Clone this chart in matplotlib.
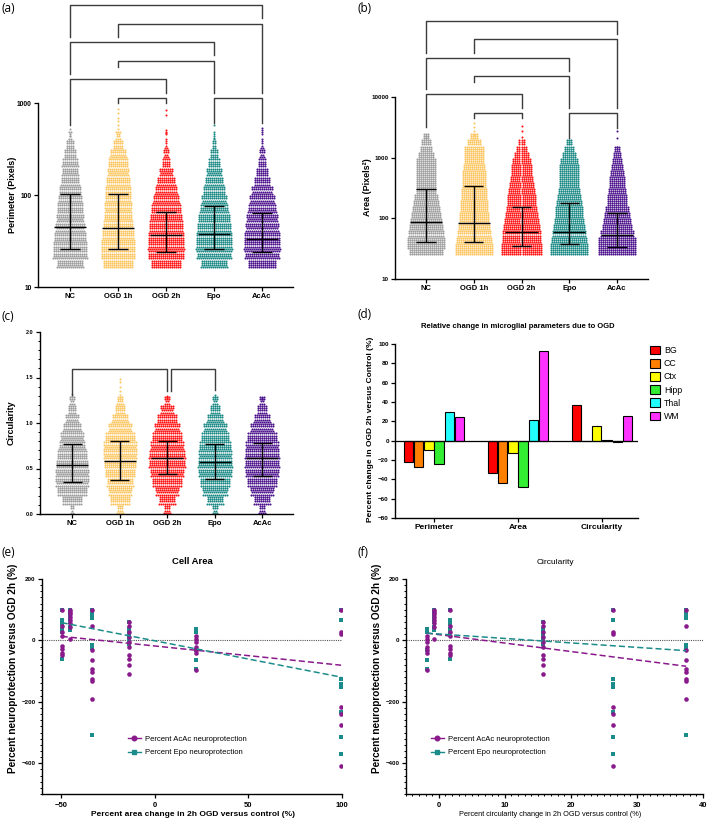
import numpy as np
import matplotlib
matplotlib.use("Agg")
import matplotlib.pyplot as plt
from matplotlib.lines import Line2D
from matplotlib.patches import Patch
from matplotlib.ticker import NullLocator, MultipleLocator

plt.rcParams['font.family'] = ['Liberation Sans', 'DejaVu Sans']
plt.rcParams['font.weight'] = 'bold'

groups = ['NC', 'OGD 1h', 'OGD 2h', 'Epo', 'AcAc']
group_colors = ['#9d9d9d', '#fcc660', '#ff1414', '#1a8985', '#4b108c']

# (a) perimeter: cells per 0.1-decade bin, first bin starts at log10 = 1.2
perim_counts = [
    [53, 69, 68, 64, 59, 55, 52, 49, 44, 37, 33, 33, 24, 16, 6],
    [60, 68, 68, 65, 61, 57, 55, 53, 52, 48, 43, 40, 33, 20, 10],
    [60, 72, 73, 72, 68, 65, 60, 53, 45, 37, 27, 16, 11, 5, 3],
    [53, 70, 73, 72, 68, 64, 57, 51, 44, 37, 31, 24, 16, 8, 4],
    [56, 70, 73, 72, 67, 63, 57, 51, 43, 32, 24, 16, 11, 5, 3],
]
perim_sparse = [[525, 440], [870, 780, 680, 630, 575, 525], [840, 740, 510, 470],
                [575, 420], [540, 510]]
perim_median = [45, 44, 36.5, 38, 33.5]
perim_lo = [25.6, 26, 24.2, 26, 23.8]
perim_hi = [102, 103, 65, 75, 63]
perim_pairs = [(0, 4), (1, 4), (0, 3), (1, 3), (0, 2), (1, 2), (3, 4)]

# (b) area: cells per 0.1-decade bin, first bin starts at log10 = 1.4
area_counts = [
    [50, 55, 55, 52, 50, 48, 45, 40, 38, 35, 30, 30, 30, 30, 30, 28, 22, 18, 14, 8],
    [55, 55, 52, 50, 48, 45, 45, 42, 40, 38, 38, 35, 35, 35, 32, 30, 30, 28, 20, 10],
    [58, 58, 55, 55, 52, 50, 48, 45, 42, 40, 38, 35, 32, 30, 28, 25, 20, 15, 8],
    [55, 55, 52, 50, 48, 45, 42, 40, 38, 35, 32, 30, 30, 30, 28, 25, 20, 15, 8],
    [55, 55, 55, 50, 45, 40, 38, 35, 30, 28, 25, 22, 22, 20, 18, 15, 12, 8],
]
area_sparse = [[2300, 2100], [3700, 3200, 2700, 2400], [3300, 2700, 2200],
               [1950, 1700], [2800, 2100, 1500]]
area_median = [86, 84, 60, 60, 53]
area_lo = [40, 40.7, 35.5, 37.2, 33.3]
area_hi = [300, 345, 152, 179, 121]
area_pairs = [(0, 4), (1, 4), (0, 3), (1, 3), (0, 2), (1, 2), (3, 4)]

# (c) circularity: cells per 0.1 bin, first bin starts at 0
circ_counts = [
    [7, 40, 60, 67, 67, 64, 60, 53, 47, 37, 27, 16, 11],
    [13, 40, 47, 53, 60, 64, 67, 67, 60, 47, 33, 20, 13],
    [13, 33, 47, 60, 67, 73, 73, 67, 60, 51, 40, 27, 11],
    [11, 33, 51, 60, 67, 69, 67, 64, 56, 47, 33, 20, 11],
    [13, 33, 47, 60, 67, 69, 69, 67, 60, 47, 33, 20, 11],
]
circ_sparse = [[1.32, 1.30], [1.48, 1.45, 1.40, 1.35, 1.31], [1.30, 1.28],
               [1.31, 1.29], [1.28, 1.26]]
circ_median = [0.542, 0.582, 0.612, 0.568, 0.612]
circ_lo = [0.348, 0.37, 0.443, 0.385, 0.414]
circ_hi = [0.769, 0.806, 0.806, 0.769, 0.78]
circ_pairs = [(0, 2), (2, 3)]

# (d) relative change per region
params = ['Perimeter', 'Area', 'Circularity']
regions = ['BG', 'CC', 'Ctx', 'Hipp', 'Thal', 'WM']
region_colors = ['#ff0000', '#ff8000', '#ffff00', '#33ee33', '#22ffff', '#ff33ff']
chg_bg = [-22.5, -33, 37.2]
chg_cc = [-27, -44.3, -0.7]
chg_ctx = [-9.7, -13.1, 15.4]
chg_hipp = [-24.5, -48.4, 1.2]
chg_thal = [29.4, 21.4, -1.5]
chg_wm = [24.2, 92.9, 25.8]

# (e)/(f) neuroprotection per region
area_change = [-33.5, -45, -13.5, -49.5, 22, 99.5]
circ_change = [37.5, -0.7, 15.8, 1.7, -1.8, 26.4]
acac_prot = [
    [100, 46, -30, -65, -94, -103, -125, -132, -192],
    [100, 92, 85, 76, 67, 56, 43, 4],
    [60, 46, 29, 11, -5, -20, -47, -60, -81, -108],
    [100, 48, 27, 16, -18, -28, -40, -48],
    [16, 5, -5, -20, -30, -41, -97],
    [100, 27, 20, -217, -241, -275, -409],
]
epo_prot = [
    [100, 90, 76, 72, -15, -25, -309],
    [100, 95, 88, 80, 70, 60, 45, 33],
    [60, 38, 27, 13, 5, 0, -11],
    [100, 67, 60, 53, 38, 27, -62],
    [38, 27, -30, -63, -92],
    [100, 65, -125, -141, -152, -234, -313, -369],
]
# linear fits: (intercept, slope)
fit_area_acac = (-18, -0.63)
fit_area_epo = (-1, -1.19)
fit_circ_acac = (19, -2.75)
fit_circ_epo = (21, -1.45)

purple = '#8a1a8c'
teal = '#1b8c8a'

fig = plt.figure(figsize=(7.09, 8.24), dpi=100)


def add_ax(l, t, r, b):
    return fig.add_axes([l / 709, 1 - b / 824, (r - l) / 709, (b - t) / 824])


def style(ax, ysize, xsize):
    for s in ['top', 'right']:
        ax.spines[s].set_visible(False)
    for s in ['left', 'bottom']:
        ax.spines[s].set_linewidth(1.0)
    ax.tick_params(which='major', length=3, width=0.9, pad=1.5)
    ax.tick_params(which='minor', length=1.5, width=0.7)
    ax.tick_params(axis='y', labelsize=ysize)
    ax.tick_params(axis='x', labelsize=xsize)


def draw_swarm(ax, xc, start, step, counts, rows, dx, color, log, sparse):
    xs, ys = [], []
    for b, n in enumerate(counts):
        lo = start + b * step
        base, extra = divmod(n, rows)
        for r in range(rows):
            k = base + (1 if (r * 3) % rows < extra else 0)
            if k <= 0:
                continue
            yv = lo + (r + 0.5) * step / rows
            if log:
                yv = 10 ** yv
            off = (np.arange(k) - (k - 1) / 2) * dx
            xs.extend(xc + off)
            ys.extend([yv] * k)
    xs.extend([xc] * len(sparse))
    ys.extend(sparse)
    ax.scatter(xs, ys, s=2.2, c=color, linewidths=0, zorder=2)


def summary(ax, i, med, lo, hi):
    kw = dict(color='black', lw=1.0, zorder=3, solid_capstyle='butt')
    ax.plot([i - 0.34, i + 0.34], [med, med], **kw)
    ax.plot([i, i], [lo, hi], **kw)
    ax.plot([i - 0.2, i + 0.2], [lo, lo], **kw)
    ax.plot([i - 0.2, i + 0.2], [hi, hi], **kw)


def bracket(ax, x0, x1, top, left_end, right_end, log):
    f = (lambda v: 10 ** v) if log else (lambda v: v)
    ax.plot([x0, x0, x1, x1], [f(left_end), f(top), f(top), f(right_end)],
            color='#3c3c3c', lw=1.0, clip_on=False, zorder=4)


# ---------- (a) ----------
ax = add_ax(38, 3, 293, 287)
ax.set_yscale('log')
for i in range(5):
    draw_swarm(ax, i, 1.2, 0.1, perim_counts[i], 4, 0.042, group_colors[i], True, perim_sparse[i])
    summary(ax, i, perim_median[i], perim_lo[i], perim_hi[i])
levels_a = [(4.065, 3.717, 3.924), (3.859, 3.717, 3.109), (3.663, 3.315, 3.522),
            (3.457, 3.391, 3.109), (3.261, 2.761, 3.109), (3.054, 3.0, 3.0),
            (3.054, 2.783, 2.783)]
for (p, q), (t, le, re) in zip(perim_pairs, levels_a):
    bracket(ax, p, q, t, le, re, True)
ax.set_ylim(10, 10 ** 4.087)
ax.set_xlim(-0.667, 4.646)
ax.spines['left'].set_bounds(10, 1000)
ax.set_yticks([10, 100, 1000])
ax.set_yticklabels(['10', '100', '1000'])
ax.yaxis.set_minor_locator(NullLocator())
ax.set_xticks(range(5))
ax.set_xticklabels(groups)
style(ax, 4.8, 5.5)

# ---------- (b) ----------
ax = add_ax(395, 8, 648, 279)
ax.set_yscale('log')
for i in range(5):
    draw_swarm(ax, i, 1.4, 0.1, area_counts[i], 3, 0.042, group_colors[i], True, area_sparse[i])
    summary(ax, i, area_median[i], area_lo[i], area_hi[i])
levels_b = [(5.252, 4.725, 5.033), (4.951, 4.725, 3.814), (4.643, 4.132, 4.428),
            (4.346, 4.247, 3.814), (4.049, 3.50, 3.814), (3.731, 3.654, 3.654),
            (3.731, 3.325, 3.484)]
for (p, q), (t, le, re) in zip(area_pairs, levels_b):
    bracket(ax, p, q, t, le, re, True)
ax.set_ylim(10, 10 ** 5.466)
ax.set_xlim(-0.65, 4.65)
ax.spines['left'].set_bounds(10, 10000)
ax.set_yticks([10, 100, 1000, 10000])
ax.set_yticklabels(['10', '100', '1000', '10000'])
ax.yaxis.set_minor_locator(NullLocator())
ax.set_xticks(range(5))
ax.set_xticklabels(groups)
style(ax, 4.5, 5.5)

# ---------- (c) ----------
ax = add_ax(40, 332, 293, 514)
for i in range(5):
    draw_swarm(ax, i, 0.0, 0.1, circ_counts[i], 4, 0.042, group_colors[i], False, circ_sparse[i])
    summary(ax, i, circ_median[i], circ_lo[i], circ_hi[i])
levels_c = [(0, 2, 1.593, 1.308, 1.352), (2.07, 3, 1.593, 1.352, 1.366)]
for x0, x1, t, le, re in levels_c:
    bracket(ax, x0, x1, t, le, re, False)
ax.set_ylim(0, 2)
ax.set_xlim(-0.68, 4.65)
ax.set_yticks([0, 0.5, 1.0, 1.5, 2.0])
ax.set_yticklabels(['0.0', '0.5', '1.0', '1.5', '2.0'])
ax.yaxis.set_minor_locator(MultipleLocator(0.1))
ax.set_xticks(range(5))
ax.set_xticklabels(groups)
style(ax, 4.0, 5.5)

# ---------- (d) ----------
ax = add_ax(395, 344, 638, 518)
xpos = np.arange(len(params))
series = [chg_bg, chg_cc, chg_ctx, chg_hipp, chg_thal, chg_wm]
for k, vals in enumerate(series):
    ax.bar(xpos + (k - 2.5) * 0.122, vals, width=0.112, color=region_colors[k],
           edgecolor='black', linewidth=0.8, zorder=2)
ax.axhline(0, color='black', lw=0.9, zorder=3)
ax.set_ylim(-80, 100)
ax.set_xlim(-0.464, 2.43)
ax.set_yticks(range(-80, 101, 20))
ax.set_xticks(xpos)
ax.set_xticklabels(params)
style(ax, 4.5, 6.0)
handles = [Patch(facecolor=c, edgecolor='black', linewidth=0.8) for c in region_colors]
fig.legend(handles, regions, loc='upper left', bbox_to_anchor=(650 / 709, 1 - 346 / 824),
           frameon=False, prop={'size': 6.3, 'weight': 'normal'}, handlelength=1.1,
           handleheight=1.1, handletextpad=0.5, labelspacing=0.45, borderaxespad=0,
           borderpad=0)
fig.text(518 / 709, 1 - 327 / 824, 'Relative change in microglial parameters due to OGD',
         ha='center', va='center', fontsize=5.5, fontweight='bold')


# ---------- (e) / (f) ----------
def neuro_panel(ax, xvals, fit_acac, fit_epo, loc_x):
    for i in range(len(regions)):
        ax.plot([xvals[i]] * len(epo_prot[i]), epo_prot[i], ls='none', marker='s',
                ms=3.2, color=teal, mew=0, zorder=3)
    for i in range(len(regions)):
        ax.plot([xvals[i]] * len(acac_prot[i]), acac_prot[i], ls='none', marker='o',
                ms=3.3, color=purple, mew=0, zorder=4)
    xr = np.array([min(xvals), max(xvals)])
    ax.plot(xr, fit_acac[0] + fit_acac[1] * xr, ls=(0, (4, 2)), color=purple, lw=1.1, zorder=5)
    ax.plot(xr, fit_epo[0] + fit_epo[1] * xr, ls=(0, (4, 2)), color=teal, lw=1.1, zorder=5)
    ax.axhline(0, color='#555555', lw=0.8, ls=(0, (1, 1)), zorder=1)
    ax.set_ylim(-500, 200)
    ax.set_yticks([-400, -200, 0, 200])
    ax.yaxis.set_minor_locator(MultipleLocator(20))
    h = [Line2D([0], [0], color=purple, marker='o', ms=3.3, lw=1.0),
         Line2D([0], [0], color=teal, marker='s', ms=3.2, lw=1.0)]
    ax.legend(h, ['Percent AcAc neuroprotection', 'Percent Epo neuroprotection'],
              loc='upper left', bbox_to_anchor=(loc_x, 0.272), frameon=False,
              prop={'size': 5.5, 'weight': 'normal'}, handlelength=1.7,
              handletextpad=0.5, labelspacing=0.8, borderaxespad=0, borderpad=0)


ax = add_ax(42, 579, 342, 794)
neuro_panel(ax, area_change, fit_area_acac, fit_area_epo, (128 - 42) / 300)
ax.set_xlim(-60, 100)
ax.set_xticks([-50, 0, 50, 100])
style(ax, 4.5, 5.5)
ax.tick_params(axis='x', pad=2.5)

ax = add_ax(405.7, 579, 702.7, 794)
neuro_panel(ax, circ_change, fit_circ_acac, fit_circ_epo, (431 - 405.7) / 297)
ax.set_xlim(-5, 40)
ax.set_xticks([0, 10, 20, 30, 40])
ax.xaxis.set_minor_locator(MultipleLocator(1))
style(ax, 4.5, 5.5)
ax.tick_params(axis='x', pad=2.5)

fig.text(192 / 709, 1 - 562 / 824, 'Cell Area', ha='center', va='center',
         fontsize=6.8, fontweight='bold')
fig.text(555 / 709, 1 - 562 / 824, 'Circularity', ha='center', va='center',
         fontsize=6.0, fontweight='normal')
fig.text(193 / 709, 1 - 815 / 824, 'Percent area change in 2h OGD versus control (%)',
         ha='center', va='center', fontsize=6.0, fontweight='bold')
fig.text(550 / 709, 1 - 815 / 824, 'Percent circularity change in 2h OGD versus control (%)',
         ha='center', va='center', fontsize=5.3, fontweight='normal')

# axis titles
ylab = dict(rotation=90, ha='center', va='center', fontweight='bold')
fig.text(13 / 709, 1 - 195 / 824, 'Perimeter (Pixels)', fontsize=6.5, **ylab)
fig.text(368 / 709, 1 - 187 / 824, 'Area (Pixels\u00b2)', fontsize=6.5, **ylab)
fig.text(11 / 709, 1 - 423 / 824, 'Circularity', fontsize=6.5, **ylab)
fig.text(370 / 709, 1 - 429 / 824, 'Percent change in OGD 2h versus Control (%)', fontsize=6.0, **ylab)
fig.text(13 / 709, 1 - 668 / 824, 'Percent neuroprotection versus OGD 2h (%)', fontsize=7.2, **ylab)
fig.text(377 / 709, 1 - 668 / 824, 'Percent neuroprotection versus OGD 2h (%)', fontsize=7.2, **ylab)

# panel letters
for lab, x, y in [('(a)', 2, 8), ('(b)', 357, 8), ('(c)', 2, 317), ('(d)', 357, 315),
                  ('(e)', 2, 553), ('(f)', 357, 553)]:
    fig.text(x / 709, 1 - y / 824, lab, ha='left', va='center', fontsize=8.5,
             family='Open Sans', fontweight='normal')

fig.savefig('out.png', dpi=100)
